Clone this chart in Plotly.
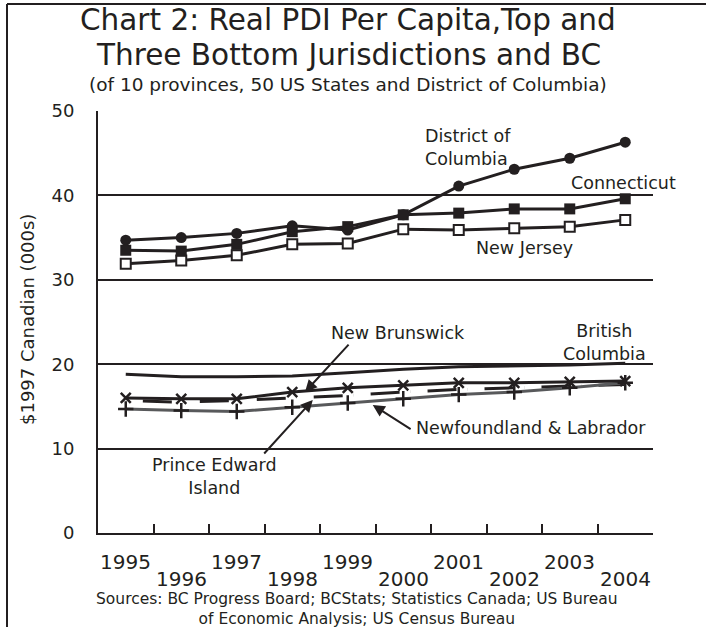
import plotly.graph_objects as go

# Years and real per-capita personal disposable income ($1997 Canadian, 000s)
years = [1995, 1996, 1997, 1998, 1999, 2000, 2001, 2002, 2003, 2004]
district_of_columbia = [34.7, 35.0, 35.5, 36.4, 35.9, 37.7, 41.1, 43.1, 44.4, 46.3]
connecticut = [33.5, 33.4, 34.2, 35.7, 36.3, 37.7, 37.9, 38.4, 38.4, 39.6]
new_jersey = [31.9, 32.3, 32.9, 34.2, 34.3, 36.0, 35.9, 36.1, 36.3, 37.1]
british_columbia = [18.8, 18.5, 18.5, 18.6, 19.0, 19.4, 19.7, 19.8, 19.9, 20.1]
new_brunswick = [16.0, 15.9, 15.9, 16.7, 17.2, 17.5, 17.8, 17.8, 17.9, 18.0]
prince_edward_island = [15.7, 15.5, 15.7, 16.0, 16.3, 16.7, 17.0, 17.2, 17.4, 17.6]
newfoundland_labrador = [14.7, 14.5, 14.4, 14.9, 15.4, 15.9, 16.4, 16.7, 17.2, 17.8]
y_ticks = [0, 10, 20, 30, 40, 50]

INK = "#231f20"
GREY = "#58595b"
FONT = "DejaVu Sans"

# Pixel helpers for paper-anchored text (plot area spans x 98-653, y 111-533)
def px_x(px):
    return (px - 98) / 555.0

def px_y(py):
    return (533 - py) / 422.0

fig = go.Figure()

fig.add_trace(go.Scatter(x=years, y=british_columbia, mode="lines",
                         line=dict(color=INK, width=3)))
fig.add_trace(go.Scatter(x=years, y=prince_edward_island, mode="lines",
                         line=dict(color=INK, width=3, dash="0.1px,17px,29px,10.9px")))
fig.add_trace(go.Scatter(x=years, y=newfoundland_labrador, mode="lines+markers",
                         line=dict(color=GREY, width=3),
                         marker=dict(symbol="cross-thin", size=11,
                                     line=dict(color=INK, width=2.5))))
fig.add_trace(go.Scatter(x=years, y=new_brunswick, mode="lines+markers",
                         line=dict(color=INK, width=3),
                         marker=dict(symbol="x-thin", size=10,
                                     line=dict(color=INK, width=2.5))))
fig.add_trace(go.Scatter(x=years, y=new_jersey, mode="lines+markers",
                         line=dict(color=INK, width=3),
                         marker=dict(symbol="square", size=10, color="white",
                                     line=dict(color=INK, width=2))))
fig.add_trace(go.Scatter(x=years, y=connecticut, mode="lines+markers",
                         line=dict(color=INK, width=3),
                         marker=dict(symbol="square", size=11, color=INK)))
fig.add_trace(go.Scatter(x=years, y=district_of_columbia, mode="lines+markers",
                         line=dict(color=INK, width=3),
                         marker=dict(symbol="circle", size=11, color=INK)))

annotations = []

# Title block
for text, py, size in [
    ("Chart 2: Real PDI Per Capita,Top and", 20, 29.5),
    ("Three Bottom Jurisdictions and BC", 55, 29.5),
    ("(of 10 provinces, 50 US States and District of Columbia)", 85, 18.5),
]:
    annotations.append(dict(text=text, xref="paper", yref="paper", x=px_x(348), y=px_y(py),
                            xanchor="center", yanchor="middle", showarrow=False,
                            font=dict(size=size, color=INK, family=FONT)))

# Vertical axis title
annotations.append(dict(text="$1997 Canadian (000s)", xref="paper", yref="paper",
                        x=px_x(27), y=px_y(320), textangle=-90, showarrow=False,
                        xanchor="center", yanchor="middle",
                        font=dict(size=18, color=INK, family=FONT)))

# Staggered year labels
for i, yr in enumerate(years):
    annotations.append(dict(text=str(yr), xref="x", yref="paper", x=yr,
                            y=px_y(562) if i % 2 == 0 else px_y(579),
                            xanchor="center", yanchor="middle", showarrow=False,
                            font=dict(size=20, color=INK, family=FONT)))

# Sources note
annotations.append(dict(text="Sources: BC Progress Board; BCStats; Statistics Canada; US Bureau"
                             "<br>of Economic Analysis; US Census Bureau",
                        xref="paper", yref="paper", x=px_x(357), y=px_y(609),
                        xanchor="center", yanchor="middle", showarrow=False,
                        font=dict(size=15.5, color=INK, family=FONT)))

# Direct series labels
label_font = dict(size=17.5, color=INK, family=FONT)
for text, x, y, xanchor, align in [
    ("District of<br>Columbia", 2000.36, 45.7, "left", "left"),
    ("Connecticut", 2002.98, 41.47, "left", "left"),
    ("New Jersey", 2002.18, 33.77, "center", "center"),
    ("New Brunswick", 1999.9, 23.7, "center", "center"),
    ("British<br>Columbia", 2003.62, 22.57, "center", "center"),
    ("Newfoundland & Labrador", 2002.31, 12.44, "center", "center"),
    ("Prince Edward<br>Island", 1996.6, 6.7, "center", "center"),
]:
    annotations.append(dict(text=text, x=x, y=y, xref="x", yref="y",
                            xanchor=xanchor, yanchor="middle", align=align,
                            showarrow=False, font=label_font))

# Leader arrows from labels to their lines
for tail_x, tail_y, tip_x, tip_y in [
    (1999.04, 22.5, 1998.23, 16.7),
    (2000.16, 12.2, 1999.45, 15.17),
    (1997.47, 9.24, 1998.37, 15.76),
]:
    annotations.append(dict(text="", x=tip_x, y=tip_y, ax=tail_x, ay=tail_y,
                            xref="x", yref="y", axref="x", ayref="y",
                            showarrow=True, arrowhead=2, arrowsize=1.2,
                            arrowwidth=2, arrowcolor=INK))

# Outer frame (left and top edges)
shapes = [
    dict(type="line", xref="paper", yref="paper", x0=px_x(7), x1=px_x(7),
         y0=px_y(4), y1=px_y(640), line=dict(color=INK, width=2)),
    dict(type="line", xref="paper", yref="paper", x0=px_x(7), x1=px_x(720),
         y0=px_y(4), y1=px_y(4), line=dict(color=INK, width=2)),
]

fig.update_layout(
    width=706, height=627,
    margin=dict(l=98, r=53, t=111, b=94),
    paper_bgcolor="white", plot_bgcolor="white",
    showlegend=False,
    annotations=annotations,
    shapes=shapes,
    font=dict(family=FONT, color=INK),
    xaxis=dict(range=[1994.5, 2004.5],
               tickvals=[y - 0.5 for y in years] + [years[-1] + 0.5],
               showticklabels=False, ticks="inside", ticklen=9, tickwidth=2,
               tickcolor=INK, showgrid=False, zeroline=False,
               showline=True, linewidth=2, linecolor=INK),
    yaxis=dict(range=[0, 50], tickvals=y_ticks, ticks="", showgrid=True,
               gridcolor=INK, gridwidth=2, zeroline=False,
               showline=True, linewidth=2, linecolor=INK,
               tickfont=dict(size=18, color=INK, family=FONT),
               ticklabelstandoff=18),
)

fig.write_html("out.html")
